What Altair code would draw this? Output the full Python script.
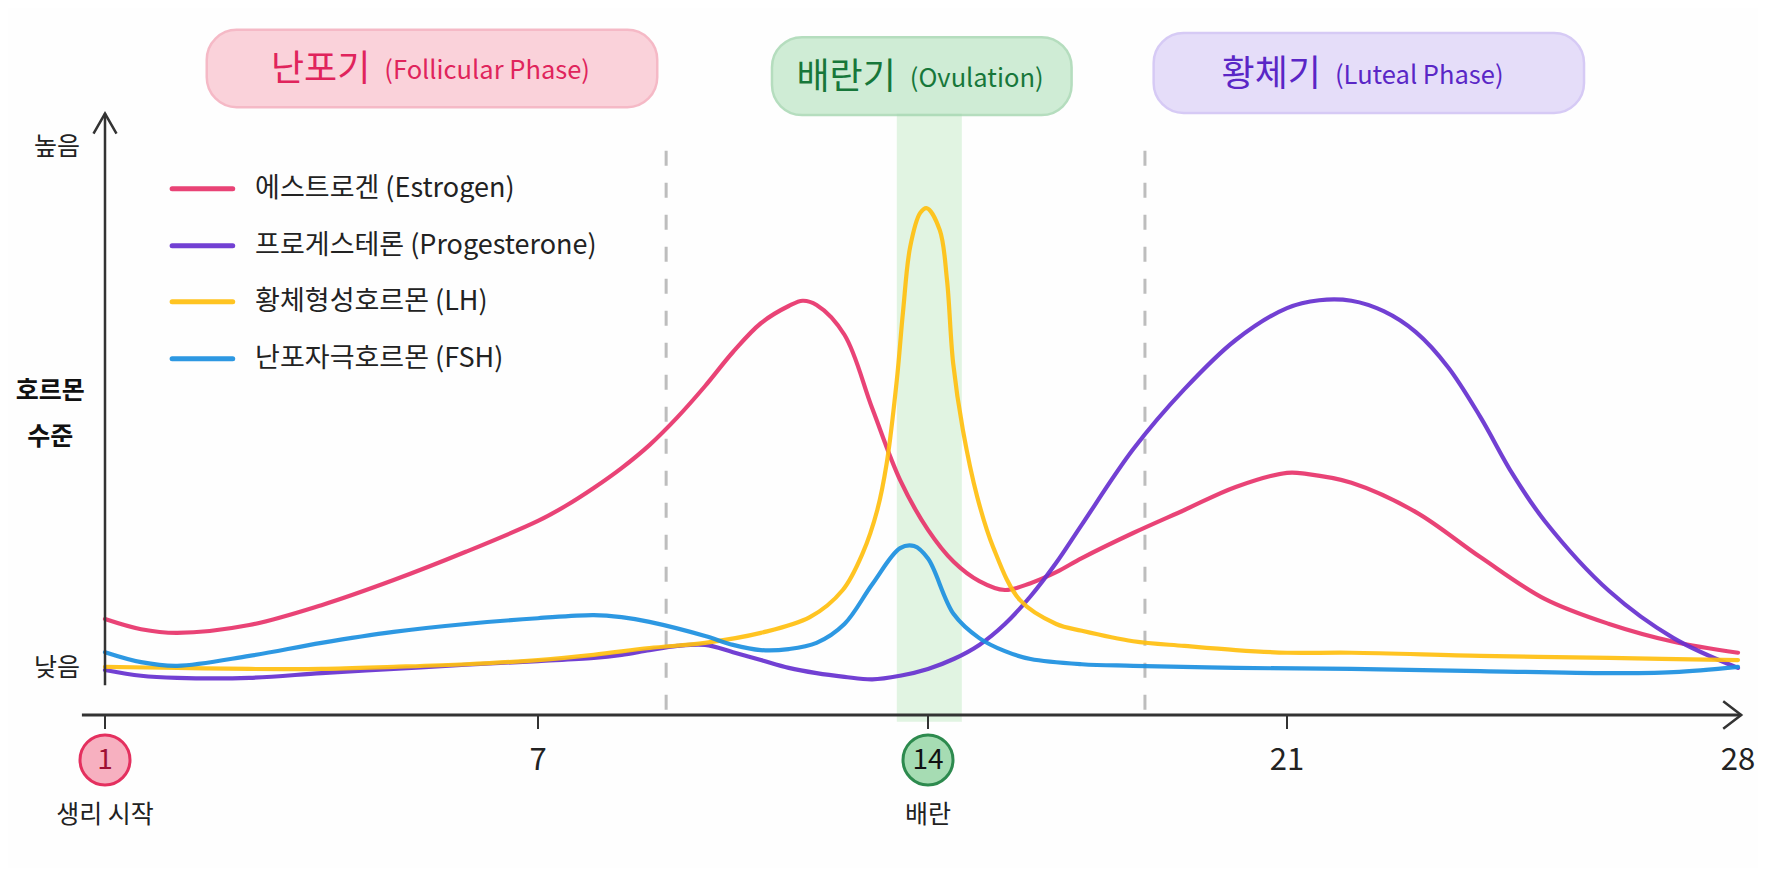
import altair as alt
import pandas as pd

FONT = "Noto Sans CJK KR"

# ---------------- hormone curves (day of cycle, relative level: 0 = 낮음, 100 = 높음)
hormones = ["에스트로겐 (Estrogen)", "프로게스테론 (Progesterone)", "황체형성호르몬 (LH)", "난포자극호르몬 (FSH)"]
hormone_colors = ["#e7336a", "#6630cf", "#ffbf0f", "#1b8fe0"]

est_day = [1, 1.5, 2, 3, 4, 5, 6, 7, 7.5, 8, 8.5, 9, 9.5, 10, 10.5, 11, 11.5, 11.75, 12, 12.5, 13, 13.5, 14,
           14.5, 15, 15.5, 16, 16.5, 17, 18, 19, 20, 21, 21.3, 22, 23, 24, 25, 26, 27, 28]
est_lvl = [9.75, 7.8, 7.1, 8.6, 12.4, 17.2, 22.6, 28.5, 31.4, 34.8, 38.6, 43.0, 48.3, 54.3, 60.8, 66.3, 69.6, 70.6, 69.8, 64.1, 50.0, 36.3, 26.8,
           20.7, 17.0, 15.3, 16.6, 18.7, 21.4, 26.2, 30.6, 35.0, 37.7, 37.5, 35.8, 30.2, 21.6, 13.6, 8.8, 5.4, 3.3]

pro_day = [1, 1.5, 2, 3, 4, 5, 6, 7, 8, 8.5, 9, 9.5, 10, 10.5, 11, 11.5, 12, 12.5, 13, 13.5, 14,
           14.5, 15, 15.5, 16, 16.5, 17, 18, 19, 20, 21, 21.5, 22, 22.5, 23, 23.5, 24, 24.5, 25, 26, 27, 28]
pro_lvl = [0.0, -1.1, -1.5, -1.5, -0.6, 0.2, 1.0, 1.7, 2.3, 2.9, 3.8, 4.6, 4.8, 3.4, 1.9, 0.4, -0.6, -1.3, -1.8, -1.1, 0.2,
           2.1, 4.8, 8.8, 14.1, 20.5, 27.8, 42.2, 53.7, 63.1, 69.2, 70.7, 70.6, 68.6, 64.6, 57.9, 48.4, 37.5, 28.5, 15.1, 6.1, 0.4]

lh_day = [1, 2, 3, 4, 5, 6, 7, 8, 9, 10, 11, 11.88, 12.47, 12.83, 13.09, 13.26, 13.44, 13.55, 13.68, 13.86, 13.98,
          14.23, 14.37, 14.49, 14.68, 14.96, 15.27, 15.79, 16.5, 17, 18, 19, 20, 21, 22, 24, 26, 28]
lh_lvl = [0.6, 0.4, 0.2, 0.2, 0.6, 1.1, 1.9, 2.9, 4.2, 5.2, 7.1, 10.1, 15.3, 22.4, 30.6, 39.6, 55.4, 68.3, 80.9, 87.4, 88.3,
          84.1, 74.6, 58.7, 45.9, 33.1, 23.5, 13.4, 8.8, 7.5, 5.5, 4.6, 3.8, 3.3, 3.3, 2.7, 2.3, 1.9]

fsh_day = [1, 1.5, 2, 3, 4, 5, 6, 7, 8, 8.5, 9, 10, 10.5, 11, 11.5, 12, 12.5, 13, 13.5, 13.75, 14,
           14.5, 15, 15.5, 16, 17, 18, 20, 22, 24, 26, 27, 28]
fsh_lvl = [3.4, 1.5, 0.8, 2.7, 5.2, 7.3, 8.8, 9.9, 10.5, 10.1, 9.2, 6.5, 4.8, 3.8, 4.0, 5.2, 8.8, 16.4, 23.3, 23.7, 21.3,
           10.7, 6.1, 3.6, 2.1, 1.1, 0.8, 0.4, 0.2, -0.2, -0.6, -0.4, 0.6]

# ---------------- axis ticks / labels
tick_days = [1, 7, 14, 21, 28]
tick_labels = ["1", "7", "14", "21", "28"]
marked_days = [1, 14]
marked_sub = ["생리 시작", "배란"]
level_labels = ["높음", "낮음"]
level_values = [100, 0.4]
axis_title = ["호르몬", "수준"]

# ---------------- phases
phase_ko = ["난포기", "배란기", "황체기"]
phase_en = ["(Follicular Phase)", "(Ovulation)", "(Luteal Phase)"]
phase_start = [2.41, 11.2, 18.4]
phase_end = [9.14, 16.8, 25.61]
phase_split = [4.76, 13.53, 21.62]
phase_bounds = [9.30, 18.23]
ovulation_window = [13.44, 14.66]

# ---------------- styles
phase_fill = ["#fac8d2", "#c4e8cb", "#e0d6f9"]
phase_stroke = ["#f4a9b9", "#a3d6af", "#cdbef3"]
phase_text = ["#e0245c", "#17773a", "#5a26c6"]

# ---------------- scales (piecewise x to follow the drawn day positions)
xs = alt.Scale(domain=tick_days, range=[97, 530, 920, 1279, 1730], nice=False, zero=False)
ys = alt.Scale(domain=[0, 100], range=[662, 139], nice=False, zero=False)


def X(f):
    return alt.X(f, type="quantitative", scale=xs, axis=None)


def Y(f):
    return alt.Y(f, type="quantitative", scale=ys, axis=None)


hcolor = alt.Color("hormone:N", scale=alt.Scale(domain=hormones, range=hormone_colors), legend=None)

# ---------------- data frames
frames = []
for name, d, v in zip(hormones, [est_day, pro_day, lh_day, fsh_day], [est_lvl, pro_lvl, lh_lvl, fsh_lvl]):
    frames.append(pd.DataFrame({"hormone": name, "day": d, "level": v}))
lines_df = pd.concat(frames, ignore_index=True)

phase_df = pd.DataFrame({
    "ko": phase_ko, "en": phase_en, "x0": phase_start, "x1": phase_end, "split": phase_split,
    "y0": [107.6, 106.1, 106.5], "y1": [122.4, 121.0, 121.8], "ty": [114.7, 113.2, 113.8],
    "fill": phase_fill, "stroke": phase_stroke, "tcol": phase_text,
})

legend_df = pd.DataFrame({
    "hormone": hormones,
    "x0": [1.93] * 4, "x1": [2.77] * 4, "tx": [3.08] * 4,
    "lvl": [92.0, 81.1, 70.4, 59.5],
})

# ---------------- layers
boxes = alt.Chart(phase_df).mark_rect(cornerRadius=30, strokeWidth=2.5, opacity=0.8).encode(
    x=X("x0"), x2="x1", y=Y("y0"), y2="y1",
    fill=alt.Fill("fill:N", scale=None), stroke=alt.Stroke("stroke:N", scale=None),
)
phase_ko_txt = alt.Chart(phase_df).mark_text(font=FONT, fontSize=36, align="right", baseline="middle", dx=-6).encode(
    x=X("split"), y=Y("ty"), text="ko:N", fill=alt.Fill("tcol:N", scale=None),
)
phase_en_txt = alt.Chart(phase_df).mark_text(font=FONT, fontSize=25.5, align="left", baseline="middle", dx=8, dy=1).encode(
    x=X("split"), y=Y("ty"), text="en:N", fill=alt.Fill("tcol:N", scale=None),
)

band = alt.Chart(pd.DataFrame({"a": [ovulation_window[0]], "b": [ovulation_window[1]], "lo": [-9.9], "hi": [106.4]})).mark_rect(
    color="#cdeccf", opacity=0.6).encode(x=X("a"), x2="b", y=Y("lo"), y2="hi")

dashes = alt.Chart(pd.DataFrame({"d": phase_bounds, "lo": [-7.6, -7.6], "hi": [100.8, 100.8]})).mark_rule(
    color="#bdbdbd", strokeWidth=3, strokeDash=[15, 17]).encode(x=X("d"), y=Y("lo"), y2="hi")

y_axis = alt.Chart(pd.DataFrame({"d": [1], "lo": [-2.9], "hi": [106.4]})).mark_rule(
    color="#333333", strokeWidth=2.5).encode(x=X("d"), y=Y("lo"), y2="hi")
x_axis = alt.Chart(pd.DataFrame({"a": [0.68], "b": [28.05], "l": [-8.6]})).mark_rule(
    color="#333333", strokeWidth=3).encode(x=X("a"), x2="b", y=Y("l"))
y_arrow = alt.Chart(pd.DataFrame({"d": [1], "l": [106.4]})).mark_point(
    shape="M-1,1.75L0,0L1,1.75", size=529, filled=False, stroke="#333333", strokeWidth=2.5, opacity=1).encode(
    x=X("d"), y=Y("l"))
x_arrow = alt.Chart(pd.DataFrame({"d": [28.05], "l": [-8.6]})).mark_point(
    shape="M-1.5,-1.15L0,0L-1.5,1.15", size=576, filled=False, stroke="#333333", strokeWidth=2.5, opacity=1).encode(
    x=X("d"), y=Y("l"))
ticks = alt.Chart(pd.DataFrame({"d": tick_days[:4], "a": [-8.6] * 4, "b": [-11.3] * 4})).mark_rule(
    color="#333333", strokeWidth=2).encode(x=X("d"), y=Y("a"), y2="b")

circles = alt.Chart(pd.DataFrame({"d": marked_days, "l": [-17.2, -17.2], "fill": ["#f7b0c0", "#a6dcb3"],
                                  "stroke": ["#e4305f", "#2d8a4e"]})).mark_point(
    shape="circle", size=2500, filled=True, strokeWidth=3, opacity=1).encode(
    x=X("d"), y=Y("l"), fill=alt.Fill("fill:N", scale=None), stroke=alt.Stroke("stroke:N", scale=None))

tick_txt = alt.Chart(pd.DataFrame({"d": tick_days, "t": tick_labels, "l": [-17.4] * 5,
                                   "c": ["#9e1035", "#222222", "#111111", "#222222", "#222222"],
                                   "fs": [28, 31, 28, 31, 31]})).mark_text(
    font=FONT, align="center", baseline="middle").encode(
    x=X("d"), y=Y("l"), text="t:N", fill=alt.Fill("c:N", scale=None), size=alt.Size("fs:Q", scale=None))

sub_txt = alt.Chart(pd.DataFrame({"d": marked_days, "t": marked_sub, "l": [-27.7, -27.7]})).mark_text(
    font=FONT, fontSize=25, align="center", baseline="middle", color="#222222").encode(
    x=X("d"), y=Y("l"), text="t:N")

lvl_txt = alt.Chart(pd.DataFrame({"d": [0.335, 0.335], "t": level_labels, "l": level_values})).mark_text(
    font=FONT, fontSize=25, align="center", baseline="middle", color="#222222").encode(
    x=X("d"), y=Y("l"), text="t:N")

title_txt = alt.Chart(pd.DataFrame({"d": [0.24, 0.24], "t": axis_title, "l": [53.3, 44.6]})).mark_text(
    font=FONT, fontSize=25, fontWeight="bold", align="center", baseline="middle", color="#111111").encode(
    x=X("d"), y=Y("l"), text="t:N")

curves = alt.Chart(lines_df).mark_line(strokeWidth=4.2, interpolate="catmull-rom", strokeCap="round", opacity=0.92).encode(
    x=X("day"), y=Y("level"), color=hcolor)

leg_lines = alt.Chart(legend_df).mark_rule(strokeWidth=5, strokeCap="round", opacity=0.92).encode(
    x=X("x0"), x2="x1", y=Y("lvl"), color=hcolor)
leg_txt = alt.Chart(legend_df).mark_text(font=FONT, fontSize=27, align="left", baseline="middle", color="#222222").encode(
    x=X("tx"), y=Y("lvl"), text="hormone:N")

chart = alt.layer(
    band, boxes, dashes, curves, y_axis, x_axis, y_arrow, x_arrow, ticks,
    circles, tick_txt, sub_txt, lvl_txt, title_txt, leg_lines, leg_txt, phase_ko_txt, phase_en_txt,
).properties(
    width=1750, height=860, padding=0,
    autosize=alt.AutoSizeParams(type="none"),
    background="#fefefe",
).configure_view(stroke="transparent")

chart.save("out.html", embed_options={"renderer": "svg", "actions": False})
